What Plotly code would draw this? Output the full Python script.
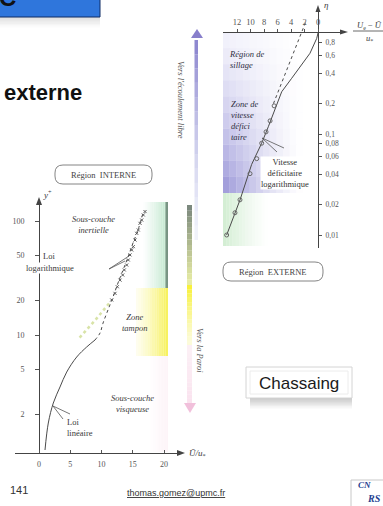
import plotly.graph_objects as go

# ---------------- data ----------------
# Internal region (left): U+ vs y+ (log)
u_ticks = [0, 5, 10, 15, 20]
yp_ticks = [2, 5, 10, 20, 50, 100]
visc_u = [0.96, 1.49, 2.29, 3.36, 4.43, 6.03, 7.63, 8.96]
visc_yp = [0.98, 1.69, 2.53, 3.50, 4.73, 6.41, 7.85, 9.04]
buf_u = [8.96, 9.76, 10.24, 11.04, 11.84, 12.64, 13.44, 14.24, 15.04, 15.84, 16.64]
buf_yp = [9.04, 10.4, 12.7, 16.6, 21.5, 28.6, 37.1, 48.3, 64.1, 83.4, 117.5]
exp_u = [11.63, 12.16, 12.53, 12.96, 13.39, 13.65, 14.03, 14.29, 14.56, 14.83,
         15.09, 15.36, 15.63, 15.89, 16.16, 16.43, 16.69, 16.96]
exp_yp = [20.3, 23.2, 26.5, 30.3, 33.6, 37.2, 41.1, 45.5, 50.4, 55.7,
          59.6, 68.1, 78.0, 83.4, 95.4, 102, 113, 121]
ext_u = [6.5, 9.0, 11.4]
ext_yp = [9.5, 13.5, 19.5]

# External region (right): (Ue-U)/u* vs eta (log)
def_ticks = [0, 2, 4, 6, 8, 10, 12]
eta_ticks = [0.01, 0.02, 0.04, 0.06, 0.08, 0.1, 0.2, 0.4, 0.6, 0.8]
eta_labels = ["0,01", "0,02", "0,04", "0,06", "0,08", "0,1", "0,2", "0,4", "0,6", "0,8"]
def_x = [13.53, 11.56, 9.83, 8.35, 7.36, 6.37, 5.38, 3.90, 2.42, 1.19, 0.19, 0.0]
def_eta = [0.0100, 0.0222, 0.0500, 0.0809, 0.118, 0.179, 0.262, 0.356, 0.482, 0.63, 0.885, 1.0]
dlog_x = [6.6, 1.7]
dlog_eta = [0.2, 1.35]
pts_x = [13.53, 12.3, 11.56, 10.07, 9.08, 8.34, 7.7, 7.1, 6.5]
pts_eta = [0.0100, 0.0166, 0.0223, 0.0405, 0.057, 0.081, 0.105, 0.135, 0.19]

# ---------------- helpers ----------------
W, H = 383, 506
def X(p): return p / W
def Y(p): return 1 - p / H

SERIF = "Liberation Serif"
SANS = "Liberation Sans"
INK = "#3a3a3a"

shapes = []
annotations = []

def rect(x0, y0, x1, y1, fill, lc=None, lw=0, layer="below"):
    shapes.append(dict(type="rect", xref="paper", yref="paper",
                       x0=X(x0), x1=X(x1), y0=Y(y1), y1=Y(y0),
                       fillcolor=fill, layer=layer,
                       line=dict(width=lw, color=lc or "rgba(0,0,0,0)")))

def seg(x0, y0, x1, y1, color="#555", width=1, layer="above"):
    shapes.append(dict(type="line", xref="paper", yref="paper",
                       x0=X(x0), y0=Y(y0), x1=X(x1), y1=Y(y1),
                       line=dict(color=color, width=width), layer=layer))

def poly(pts, fill, layer="below"):
    d = "M " + " L ".join(f"{X(a):.5f},{Y(b):.5f}" for a, b in pts) + " Z"
    shapes.append(dict(type="path", xref="paper", yref="paper", path=d,
                       fillcolor=fill, line=dict(width=0), layer=layer))

def rbox(x0, y0, x1, y1, r, color="#555", width=1):
    P = lambda a, b: f"{X(a):.5f},{Y(b):.5f}"
    d = (f"M {P(x0 + r, y0)} L {P(x1 - r, y0)} Q {P(x1, y0)} {P(x1, y0 + r)} "
         f"L {P(x1, y1 - r)} Q {P(x1, y1)} {P(x1 - r, y1)} L {P(x0 + r, y1)} "
         f"Q {P(x0, y1)} {P(x0, y1 - r)} L {P(x0, y0 + r)} Q {P(x0, y0)} {P(x0 + r, y0)} Z")
    shapes.append(dict(type="path", xref="paper", yref="paper", path=d,
                       fillcolor="white", line=dict(color=color, width=width), layer="above"))

def lerp(a, b, t): return tuple(a[i] + (b[i] - a[i]) * t for i in range(4))
def rgba(c): return f"rgba({int(c[0])},{int(c[1])},{int(c[2])},{c[3]:.3f})"

def hgrad(x0, x1, y0, y1, c0, c1, n=14):
    w = (x1 - x0) / n
    for i in range(n):
        rect(x0 + i * w, y0, x0 + (i + 1) * w, y1, rgba(lerp(c0, c1, (i + 0.5) / n)))

def vgrad(x0, x1, y0, y1, c0, c1, n=14):
    h = (y1 - y0) / n
    for i in range(n):
        rect(x0, y0 + i * h, x1, y0 + (i + 1) * h, rgba(lerp(c0, c1, (i + 0.5) / n)))

def text(t, x, y, size=8.5, family=SERIF, color=INK, xanchor="center",
         yanchor="middle", angle=0, bg=None, align="center"):
    annotations.append(dict(text=t, x=X(x), y=Y(y), xref="paper", yref="paper",
                            showarrow=False, xanchor=xanchor, yanchor=yanchor,
                            textangle=angle, align=align,
                            font=dict(family=family, size=size, color=color),
                            bgcolor=bg, borderpad=0))

# ---------------- decorations ----------------
# header box
vgrad(0, 100, 17, 28, (0, 0, 0, 0.13), (0, 0, 0, 0.0), n=8)
rect(-2, -2, 100, 17, "#2f76dc", lc="#0f2c66", lw=1)
text("<b>C</b>", 7, -3, size=24, family=SANS, color="#111")
text("<b>externe</b>", 83, 92, size=22, family=SANS, color="#111", xanchor="right")

# left chart coloured zones
hgrad(143, 168, 202, 288, (200, 236, 214, 0.0), (185, 228, 200, 0.95))
rect(165.5, 202, 168, 288, "rgba(95,120,105,0.75)")
hgrad(136, 168, 288, 356, (250, 246, 160, 0.15), (246, 240, 70, 0.9))
hgrad(148, 168, 356, 452, (250, 232, 240, 0.0), (250, 230, 240, 0.45))

# right chart coloured zones (2-D fade)
ny, nx = 10, 12
for j in range(ny):
    ty = (j + 0.5) / ny
    a_row = 0.25 + 0.55 * ty
    col = lerp((205, 205, 240, 0), (125, 120, 205, 0), ty)
    y0 = 32 + j * (193 - 32) / ny
    y1 = 32 + (j + 1) * (193 - 32) / ny
    for i in range(nx):
        tx = (i + 0.5) / nx
        c = (col[0], col[1], col[2], a_row * (1 - tx) ** 1.3)
        rect(223 + i * (80 / nx), y0, 223 + (i + 1) * (80 / nx), y1, rgba(c))
hgrad(223, 268, 193, 246, (195, 232, 195, 0.75), (215, 240, 215, 0.0))

# central vertical bar
vgrad(194.5, 198, 40, 240, (125, 118, 200, 0.9), (205, 212, 240, 0.25))
poly([(191, 38), (203, 38), (197, 29)], "rgba(130,120,200,0.95)")
vgrad(187, 192, 205, 285, (105, 120, 110, 0.9), (232, 238, 150, 0.85))
vgrad(187, 192, 285, 345, (247, 240, 40, 0.95), (250, 248, 190, 0.5))
vgrad(187, 192, 345, 403, (250, 228, 238, 0.55), (248, 215, 232, 0.7))
poly([(184, 403), (196, 403), (190, 413)], "rgba(240,185,215,0.9)")

# "Chassaing" box
vgrad(250, 352, 398, 409, (0, 0, 0, 0.22), (0, 0, 0, 0.0), n=8)
rect(246, 367, 352, 398, "white", lc="#d4d4d4", lw=1)
rect(250, 371, 348, 394, "white", lc="#ececec", lw=1)

# fraction bar for (Ue-U)/u*
seg(353, 31, 385, 31, color="#444", width=0.8)

# axis arrow heads
poly([(185, 453), (177, 450), (177, 456)], "#444", layer="above")
poly([(39, 197), (36, 205), (42, 205)], "#444", layer="above")
poly([(348, 32), (340, 29.5), (340, 34.5)], "#444", layer="above")
poly([(318, 5), (315.5, 12), (320.5, 12)], "#444", layer="above")

# pointer lines
seg(109, 269, 129, 256, color="#555", width=0.8)
seg(109, 269, 125, 261, color="#555", width=0.8)
seg(53, 406, 70, 414, color="#555", width=0.8)
seg(53, 406, 63, 419, color="#555", width=0.8)
seg(262, 138, 277, 152, color="#555", width=0.8)
seg(262, 138, 284, 148, color="#555", width=0.8)

# rounded boxes
rbox(55, 165, 152, 184, 8, color="#666", width=0.8)
rbox(223, 262, 323, 281, 8, color="#666", width=0.8)

# CNRS logo
rect(351, 480, 386, 508, "white", lc="#c8c8c8", lw=1)
text("<b><i>CN</i></b>", 364, 485, size=9, family=SERIF, color="#24418f")
text("<b><i>RS</i></b>", 374, 498, size=10, family=SERIF, color="#24418f")

# ---------------- texts ----------------
text("<i>y</i><sup>+</sup>", 47, 194, size=9)
text("Région  INTERNE", 103, 174.5, size=8.5, color="#444")
text("<i>Sous-couche<br>inertielle</i>", 93, 224, size=8.5)
text("Loi", 42, 256, size=8.5, xanchor="left")
text("logarithmique", 25, 268, size=8.5, xanchor="left", bg="white")
text("<i>Zone<br>tampon</i>", 135, 322, size=8.5)
text("<i>Sous-couche<br>visqueuse</i>", 132, 403, size=8.5)
text("Loi<br>linéaire", 66, 427, size=8.5, xanchor="left", align="left")
text("<i>Ū/u</i><sub>*</sub>", 188, 453, size=9, xanchor="left")

text("<i>η</i>", 326, 5, size=9)
text("<i>U</i><sub>e</sub> − <i>Ū</i>", 369, 25, size=8.5)
text("<i>u</i><sub>*</sub>", 369, 38, size=8.5)
text("<i>Région de<br>sillage</i>", 228, 59, size=8.5, xanchor="left", align="left", color="#2e2e3e")
text("<i>Zone de<br>vitesse<br>défici<br>taire</i>", 230, 121, size=8.5, xanchor="left", align="left", color="#2e2e3e")
text("Vitesse<br>déficitaire<br>logarithmique", 285, 173, size=8.5, bg="white", color="#333")
text("Région  EXTERNE", 273, 271.5, size=8.5, color="#444")

text("<i>Vers l'écoulement libre</i>", 181, 100, size=8.5, angle=90, color="#555")
text("<i>Vers la Paroi</i>", 200, 350, size=8.5, angle=90, color="#555")

text("Chassaing", 299, 383, size=17, family=SANS, color="#1a1a1a")
text("141", 19, 490, size=11, family=SANS, color="#333")
text("<u>thomas.gomez@upmc.fr</u>", 176, 493, size=9, family=SANS, color="#333")

# ---------------- traces ----------------
line_kw = dict(color="#4a4a4a", width=1)
fig = go.Figure()
fig.add_trace(go.Scatter(x=ext_u, y=ext_yp, mode="lines", xaxis="x", yaxis="y",
                         line=dict(color="rgba(200,215,130,0.7)", width=2.5, dash="dot"),
                         hoverinfo="skip", showlegend=False))
fig.add_trace(go.Scatter(x=visc_u, y=visc_yp, mode="lines", xaxis="x", yaxis="y",
                         line=line_kw, line_shape="spline", hoverinfo="skip", showlegend=False))
fig.add_trace(go.Scatter(x=buf_u, y=buf_yp, mode="lines", xaxis="x", yaxis="y",
                         line=dict(color="#4a4a4a", width=1, dash="dot"), line_shape="spline",
                         hoverinfo="skip", showlegend=False))
fig.add_trace(go.Scatter(x=exp_u, y=exp_yp, mode="markers", xaxis="x", yaxis="y",
                         marker=dict(symbol="x-thin", size=3, color="#555",
                                     line=dict(color="#555", width=1)),
                         hoverinfo="skip", showlegend=False))
fig.add_trace(go.Scatter(x=def_x, y=def_eta, mode="lines", xaxis="x2", yaxis="y2",
                         line=line_kw, hoverinfo="skip", showlegend=False))
fig.add_trace(go.Scatter(x=dlog_x, y=dlog_eta, mode="lines", xaxis="x2", yaxis="y2",
                         line=dict(color="#4a4a4a", width=1, dash="dot"),
                         hoverinfo="skip", showlegend=False))
fig.add_trace(go.Scatter(x=pts_x, y=pts_eta, mode="markers", xaxis="x2", yaxis="y2",
                         marker=dict(symbol="circle-open", size=4, color="#666",
                                     line=dict(color="#666", width=1)),
                         hoverinfo="skip", showlegend=False))

# ---------------- axes ----------------
def lyl(p): return 1 + (335 - p) / 114        # log10(y+) at pixel row
def rx(p): return (318 - p) / 6.75             # deficit at pixel column
def rl(p): return -2 + (235 - p) / 101         # log10(eta) at pixel row

tickfont = dict(family=SERIF, size=8, color="#555")
fig.update_layout(
    width=W, height=H, autosize=False,
    margin=dict(l=0, r=0, t=0, b=0),
    paper_bgcolor="white", plot_bgcolor="rgba(0,0,0,0)",
    showlegend=False,
    xaxis=dict(domain=[X(15), X(182)], range=[(15 - 39) / 6.25, (182 - 39) / 6.25],
               anchor="y", tickvals=u_ticks, ticks="inside", ticklen=3, tickcolor="#555",
               showline=True, linecolor="#444", linewidth=1, showgrid=False, zeroline=False,
               tickfont=tickfont, ticklabelstandoff=3, fixedrange=True),
    yaxis=dict(type="log", domain=[Y(453), Y(203)], range=[lyl(453), lyl(203)],
               anchor="free", position=X(39), tickvals=yp_ticks,
               ticktext=[str(v) for v in yp_ticks], ticks="outside", ticklen=4,
               tickcolor="#555", showline=True, linecolor="#444", linewidth=1,
               showgrid=False, zeroline=False, tickfont=tickfont, ticklabelstandoff=9,
               fixedrange=True),
    xaxis2=dict(domain=[X(223), X(343)], range=[rx(223), rx(343)], anchor="free",
                position=Y(32), side="top", tickvals=def_ticks, ticks="outside", ticklen=3,
                tickcolor="#555", showline=True, linecolor="#444", linewidth=1,
                showgrid=False, zeroline=False, tickfont=dict(family=SERIF, size=8.5, color="#555"),
                ticklabelstandoff=1, fixedrange=True),
    yaxis2=dict(type="log", domain=[Y(248), Y(10)], range=[rl(248), rl(10)], anchor="free",
                position=X(318), side="right", tickvals=eta_ticks, ticktext=eta_labels,
                ticks="outside", ticklen=3, tickcolor="#555", showline=True, linecolor="#444",
                linewidth=1, showgrid=False, zeroline=False,
                tickfont=dict(family=SERIF, size=7.5, color="#555"), ticklabelstandoff=2,
                fixedrange=True),
    shapes=shapes, annotations=annotations,
)

fig.write_html("out.html", config={"displayModeBar": False})
